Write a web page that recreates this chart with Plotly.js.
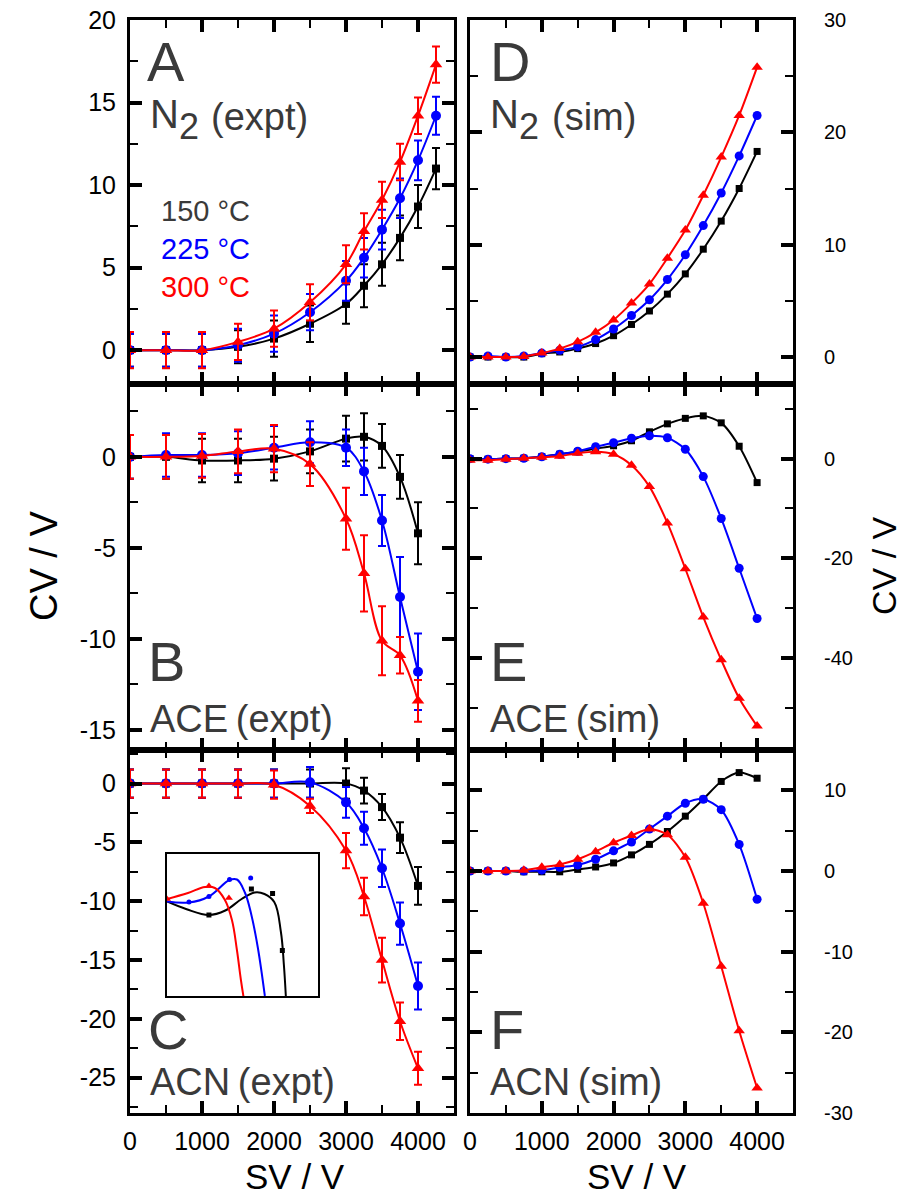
<!DOCTYPE html>
<html><head><meta charset="utf-8">
<script src="https://cdn.plot.ly/plotly-3.0.1.min.js"></script>
<style>html,body{margin:0;padding:0;background:#fff}#chart{width:913px;height:1196px}</style>
</head><body><div id="chart"></div>
<script>
// ---------- DATA ----------
const SV_EXPT_N2 = [0,500,1000,1500,2000,2500,3000,3250,3500,3750,4000,4250];
const SV_EXPT = [0,500,1000,1500,2000,2500,3000,3250,3500,3750,4000];
const SV_SIM = [0,250,500,750,1000,1250,1500,1750,2000,2250,2500,2750,3000,3250,3500,3750,4000];

// A: N2 expt
const A_150 = [0,0,0,0.2,0.7,1.6,2.8,3.9,5.2,6.8,8.7,11.0];
const A_150_ERR = [1.0,1.0,1.0,1.0,1.1,1.1,1.2,1.3,1.3,1.35,1.3,1.25];
const A_225 = [0,0,0,0.3,1.0,2.3,4.2,5.6,7.3,9.2,11.5,14.2];
const A_225_ERR = [1.0,1.0,1.0,1.0,1.1,1.1,1.2,1.2,1.2,1.2,1.2,1.15];
const A_300 = [0,0,0,0.5,1.3,2.9,5.2,7.2,9.1,11.4,14.2,17.3];
const A_300_ERR = [1.1,1.1,1.1,1.1,1.1,1.1,1.15,1.1,1.1,1.1,1.1,1.1];

// B: ACE expt
const B_150 = [0,0,-0.2,-0.2,-0.1,0.3,1.0,1.1,0.6,-1.1,-4.2];
const B_150_ERR = [1.2,1.2,1.2,1.2,1.2,1.2,1.25,1.3,1.2,1.2,1.7];
const B_225 = [0,0.1,0.1,0.2,0.5,0.8,0.5,-0.8,-3.5,-7.7,-11.8];
const B_225_ERR = [1.2,1.2,1.2,1.2,1.2,1.15,1.0,1.3,1.4,2.2,2.1];
const B_300 = [0,0,0.05,0.3,0.45,-0.4,-3.4,-6.4,-10.1,-10.9,-13.4];
const B_300_ERR = [1.2,1.2,1.2,1.2,1.3,1.2,1.7,2.1,1.9,1.0,1.15];

// C: ACN expt
const C_150 = [0,0,0,0,0,0,0,-0.6,-2.0,-4.6,-8.7];
const C_150_ERR = [1.2,1.2,1.2,1.2,1.2,1.2,1.3,1.1,1.1,1.3,1.6];
const C_225 = [0,0,0,0,0,0.1,-1.6,-3.8,-7.2,-11.9,-17.2];
const C_225_ERR = [1.2,1.2,1.2,1.2,1.2,1.3,1.3,1.4,1.6,1.8,2.0];
const C_300 = [0,0,0,0,-0.1,-1.9,-5.7,-9.6,-15.0,-20.2,-24.2];
const C_300_ERR = [1.2,1.2,1.2,1.2,1.2,0.6,1.5,1.6,1.9,1.6,1.4];

// D: N2 sim
const D_150 = [0,0,0,0,0.3,0.45,0.75,1.2,1.9,2.9,4.1,5.6,7.4,9.6,12.1,15.0,18.3];
const D_225 = [0,0.1,0,0.1,0.35,0.6,0.9,1.55,2.5,3.7,5.1,6.9,9.1,11.7,14.6,17.9,21.5];
const D_300 = [0,0,0,0.05,0.35,0.75,1.35,2.2,3.3,4.8,6.5,8.8,11.3,14.4,17.8,21.5,25.8];

// E: ACE sim
const E_150 = [0,-0.1,0,0.1,0.4,0.9,1.4,2.0,2.6,3.6,5.4,7.0,8.1,8.6,7.2,2.5,-4.8];
const E_225 = [0,-0.1,0,0.1,0.4,0.9,1.5,2.4,3.2,4.1,4.6,4.2,1.9,-3.6,-12.0,-22.0,-32.1];
const E_300 = [-0.3,-0.3,-0.1,0.1,0.3,0.5,1.1,1.4,0.9,-1.3,-5.6,-12.9,-22.1,-31.8,-40.4,-48.1,-53.7];

// F: ACN sim
const F_150 = [0,0,0,-0.1,-0.1,-0.1,0.2,0.5,1.0,2.0,3.3,4.9,6.8,8.9,11.1,12.2,11.5];
const F_225 = [0,0,0,0,0.1,0.45,0.75,1.45,2.5,3.6,5.2,6.8,8.4,8.9,7.6,3.3,-3.5];
const F_300 = [0,0,0,0.1,0.45,0.8,1.45,2.4,3.5,4.4,5.2,4.5,1.7,-4.0,-11.8,-19.8,-26.9];

// Inset (ACN expt, low-SV detail)
const INSET_LINE_150_X = [0,452,1000,1390,1779,2090,2324,2557,2714,2786,2833];
const INSET_LINE_150_Y = [-0.05,-0.2,-0.32,-0.23,0,0.13,0.1,-0.06,-0.65,-1.31,-1.94];
const INSET_LINE_225_X = [0,524,1000,1490,1667,1857,2012,2167,2333];
const INSET_LINE_225_Y = [-0.05,-0.07,0.05,0.38,0.39,0.13,-0.32,-0.98,-1.94];
const INSET_LINE_300_X = [0,500,905,1143,1381,1548,1667,1762,1833];
const INSET_LINE_300_Y = [0,0.12,0.24,0.22,-0.02,-0.42,-1.02,-1.62,-2.0];
const INSET_PTS_150_X = [1000,2012,2517,2750];
const INSET_PTS_150_Y = [-0.32,0.2,0.11,-1.03];
const INSET_PTS_225_X = [524,1000,1490,1995];
const INSET_PTS_225_Y = [-0.06,0.05,0.39,0.42];
const INSET_PTS_300_X = [0,1000,1476];
const INSET_PTS_300_Y = [0,0.26,0.02];

// Tick labels
const X_TICKS = [0,1000,2000,3000,4000];
const X_TICKTEXT = ['0','1000','2000','3000','4000'];
const A_TICKS = [0,5,10,15,20];          const A_TICKTEXT = ['0','5','10','15','20'];
const B_TICKS = [0,-5,-10,-15];          const B_TICKTEXT = ['0','-5','-10','-15'];
const C_TICKS = [0,-5,-10,-15,-20,-25];  const C_TICKTEXT = ['0','-5','-10','-15','-20','-25'];
const D_TICKS = [0,10,20,30];            const D_TICKTEXT = ['0','10','20','30'];
const E_TICKS = [0,-20,-40];             const E_TICKTEXT = ['0','-20','-40'];
const F_TICKS = [10,0,-10,-20,-30];      const F_TICKTEXT = ['10','0','-10','-20','-30'];

const LEGEND_LABELS = ['150 °C','225 °C','300 °C'];

// ---------- STYLE ----------
const W = 913, H = 1196;
const px = v => v / W;
const py = v => 1 - v / H;
const FONT = 'Liberation Sans, Arial, sans-serif';
const COLORS = ['#000000','#0000ff','#ff0000'];
const SYMBOLS = ['square','circle','triangle-up'];
const SIZES_EXPT = [8,10,11];
const SIZES_SIM = [7,9,10];
const GRAY = '#3a3a3a';

const traces = [];
function expt(x, y, err, i, ax) {
  traces.push({
    x: x, y: y, xaxis: 'x' + ax, yaxis: 'y' + ax, type: 'scatter', mode: 'lines+markers',
    line: {color: COLORS[i], width: 2, shape: 'spline', smoothing: 1},
    marker: {color: COLORS[i], symbol: SYMBOLS[i], size: SIZES_EXPT[i]},
    error_y: {type: 'data', array: err, visible: true, color: COLORS[i], thickness: 2, width: 4},
    showlegend: false, hoverinfo: 'skip'
  });
}
function sim(x, y, i, ax) {
  traces.push({
    x: x, y: y, xaxis: 'x' + ax, yaxis: 'y' + ax, type: 'scatter', mode: 'lines+markers',
    line: {color: COLORS[i], width: 2, shape: 'spline', smoothing: 0.8},
    marker: {color: COLORS[i], symbol: SYMBOLS[i], size: SIZES_SIM[i]},
    showlegend: false, hoverinfo: 'skip'
  });
}
expt(SV_EXPT_N2, A_150, A_150_ERR, 0, ''); expt(SV_EXPT_N2, A_225, A_225_ERR, 1, ''); expt(SV_EXPT_N2, A_300, A_300_ERR, 2, '');
expt(SV_EXPT, B_150, B_150_ERR, 0, '2'); expt(SV_EXPT, B_225, B_225_ERR, 1, '2'); expt(SV_EXPT, B_300, B_300_ERR, 2, '2');
expt(SV_EXPT, C_150, C_150_ERR, 0, '3'); expt(SV_EXPT, C_225, C_225_ERR, 1, '3'); expt(SV_EXPT, C_300, C_300_ERR, 2, '3');
sim(SV_SIM, D_150, 0, '4'); sim(SV_SIM, D_225, 1, '4'); sim(SV_SIM, D_300, 2, '4');
sim(SV_SIM, E_150, 0, '5'); sim(SV_SIM, E_225, 1, '5'); sim(SV_SIM, E_300, 2, '5');
sim(SV_SIM, F_150, 0, '6'); sim(SV_SIM, F_225, 1, '6'); sim(SV_SIM, F_300, 2, '6');

// inset
[[INSET_LINE_150_X, INSET_LINE_150_Y],[INSET_LINE_225_X, INSET_LINE_225_Y],[INSET_LINE_300_X, INSET_LINE_300_Y]].forEach((d, i) => {
  traces.push({x: d[0], y: d[1], xaxis: 'x7', yaxis: 'y7', type: 'scatter', mode: 'lines',
    line: {color: COLORS[i], width: 2, shape: 'spline', smoothing: 1.1}, showlegend: false, hoverinfo: 'skip'});
});
[[INSET_PTS_150_X, INSET_PTS_150_Y],[INSET_PTS_225_X, INSET_PTS_225_Y],[INSET_PTS_300_X, INSET_PTS_300_Y]].forEach((d, i) => {
  traces.push({x: d[0], y: d[1], xaxis: 'x7', yaxis: 'y7', type: 'scatter', mode: 'markers',
    marker: {color: COLORS[i], symbol: SYMBOLS[i], size: i === 2 ? 7 : 5}, showlegend: false, hoverinfo: 'skip'});
});

const colL = [px(130), px(454)], colR = [px(470), px(793)];
const row1 = [py(384), py(20)], row2 = [py(750), py(384)], row3 = [py(1113), py(750)];

function xax(domain, anchor, labels) {
  return {
    domain: domain, anchor: anchor, range: [0, 4500], showline: true, linewidth: 3, linecolor: '#000',
    mirror: 'ticks', ticks: 'inside', ticklen: 12, tickwidth: 4, tickcolor: '#000',
    tickmode: 'array', tickvals: X_TICKS, ticktext: X_TICKTEXT,
    minor: {ticks: 'inside', ticklen: 8, tickwidth: 2, tickcolor: '#000', dtick: 500, tick0: 0},
    showticklabels: labels, tickfont: {family: FONT, size: 25, color: '#000'}, ticklabelstandoff: 4,
    showgrid: false, zeroline: false, fixedrange: true
  };
}
function yax(domain, anchor, range, tv, tt, minorD, side) {
  const right = side === 'right';
  return {
    domain: domain, anchor: anchor, range: range, side: side, showline: true, linewidth: 3, linecolor: '#000',
    mirror: 'ticks', ticks: 'inside', ticklen: 12, tickwidth: 4, tickcolor: '#000',
    tickmode: 'array', tickvals: tv, ticktext: tt,
    minor: {ticks: 'inside', ticklen: 8, tickwidth: 2, tickcolor: '#000', dtick: minorD, tick0: 0},
    tickfont: {family: FONT, size: right ? 20 : 25, color: '#000'}, ticklabelstandoff: right ? 24 : 6,
    showgrid: false, zeroline: false, fixedrange: true
  };
}

const layout = {
  width: W, height: H, margin: {l: 0, r: 0, t: 0, b: 0},
  paper_bgcolor: '#fff', plot_bgcolor: '#fff', showlegend: false,
  font: {family: FONT, color: '#000'},
  xaxis: xax(colL, 'y', false),   yaxis: yax(row1, 'x', [-2.05, 20], A_TICKS, A_TICKTEXT, 2.5, 'left'),
  xaxis2: xax(colL, 'y2', false), yaxis2: yax(row2, 'x2', [-16.1, 4], B_TICKS, B_TICKTEXT, 2.5, 'left'),
  xaxis3: xax(colL, 'y3', true),  yaxis3: yax(row3, 'x3', [-28, 2.85], C_TICKS, C_TICKTEXT, 2.5, 'left'),
  xaxis4: xax(colR, 'y4', false), yaxis4: yax(row1, 'x4', [-2.4, 30], D_TICKS, D_TICKTEXT, 5, 'right'),
  xaxis5: xax(colR, 'y5', false), yaxis5: yax(row2, 'x5', [-58.5, 15], E_TICKS, E_TICKTEXT, 10, 'right'),
  xaxis6: xax(colR, 'y6', true),  yaxis6: yax(row3, 'x6', [-30, 15], F_TICKS, F_TICKTEXT, 5, 'right'),
  xaxis7: {domain: [px(167), px(318)], anchor: 'y7', range: [0, 3600], showline: true, mirror: true, linewidth: 2,
    linecolor: '#000', ticks: '', showticklabels: false, showgrid: false, zeroline: false, fixedrange: true},
  yaxis7: {domain: [py(996), py(854)], anchor: 'x7', range: [-1.94, 0.9], showline: true, mirror: true, linewidth: 2,
    linecolor: '#000', ticks: '', showticklabels: false, showgrid: false, zeroline: false, fixedrange: true},
  annotations: []
};

function ann(text, x, y, size, color, opts) {
  layout.annotations.push(Object.assign({
    text: text, xref: 'paper', yref: 'paper', x: px(x), y: py(y), xanchor: 'left', yanchor: 'middle',
    showarrow: false, borderpad: 0, font: {family: FONT, size: size, color: color}
  }, opts || {}));
}
// panel letters and names
const LET = 56;
ann('A', 146, 61, LET, GRAY); ann('N', 149, 114, 40, GRAY); ann('2', 178, 127, 36, GRAY); ann('(expt)', 210, 117, 38, GRAY);
ann('B', 147, 661, LET, GRAY); ann('ACE\u2009(expt)', 149, 719, 38, GRAY);
ann('C', 147, 1029, LET, GRAY); ann('ACN\u2009(expt)', 149, 1082, 38, GRAY);
ann('D', 489, 61, LET, GRAY); ann('N', 489, 114, 40, GRAY); ann('2', 518, 127, 36, GRAY); ann('(sim)', 551, 117, 38, GRAY);
ann('E', 489, 661, LET, GRAY); ann('ACE\u2009(sim)', 489, 719, 38, GRAY);
ann('F', 489, 1029, LET, GRAY); ann('ACN\u2009(sim)', 489, 1082, 38, GRAY);
// temperature legend
ann(LEGEND_LABELS[0], 160, 211, 29, GRAY);
ann(LEGEND_LABELS[1], 160, 249, 29, '#0000ff');
ann(LEGEND_LABELS[2], 160, 287, 29, '#ff0000');
// axis titles
ann('CV / V', 44, 566, 38, '#000', {xanchor: 'center', textangle: -90});
ann('CV / V', 884, 566, 34, '#000', {xanchor: 'center', textangle: -90});
ann('SV / V', 295, 1176, 35, '#000', {xanchor: 'center'});
ann('SV / V', 637, 1176, 35, '#000', {xanchor: 'center'});

Plotly.newPlot('chart', traces, layout, {staticPlot: true, displayModeBar: false});
</script>
</body></html>
